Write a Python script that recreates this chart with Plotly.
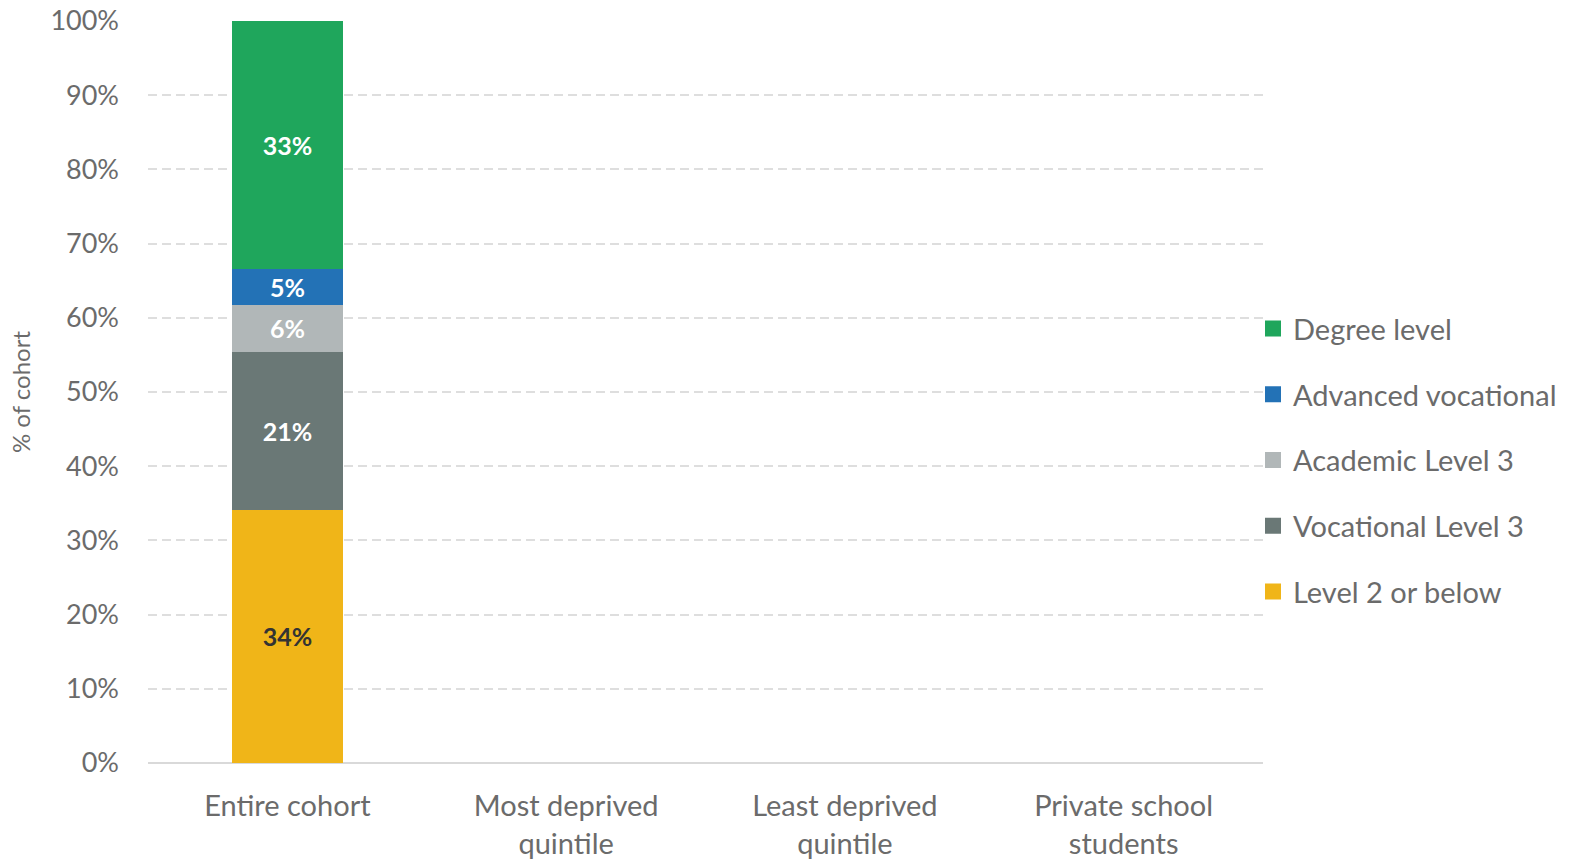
import plotly.graph_objects as go

# Categories along the x axis
categories = ["Entire cohort", "Most deprived<br>quintile", "Least deprived<br>quintile", "Private school<br>students"]

# Share of cohort (%) by highest qualification; only the entire cohort is populated
level2_below = [34.1, None, None, None]
vocational_l3 = [21.3, None, None, None]
academic_l3 = [6.3, None, None, None]
advanced_voc = [4.9, None, None, None]
degree = [33.4, None, None, None]

y_ticks = [0, 10, 20, 30, 40, 50, 60, 70, 80, 90, 100]
y_tick_text = [f"{t}%" for t in y_ticks]

series = [
    ("Level 2 or below", level2_below, "#F0B518", "#333333"),
    ("Vocational Level 3", vocational_l3, "#6A7876", "white"),
    ("Academic Level 3", academic_l3, "#B1B7B8", "white"),
    ("Advanced vocational", advanced_voc, "#2372B6", "white"),
    ("Degree level", degree, "#1FA65C", "white"),
]
legend_order = ["Degree level", "Advanced vocational", "Academic Level 3",
                "Vocational Level 3", "Level 2 or below"]

font_family = "Lato, 'Open Sans', sans-serif"
grey = "#6b6b6b"

fig = go.Figure()
for name, vals, color, txtcolor in series:
    fig.add_trace(go.Bar(
        x=categories,
        y=vals,
        name=name,
        showlegend=False,
        marker=dict(color=color, line=dict(width=0)),
        texttemplate="%{y:.0f}%",
        textposition="inside",
        insidetextanchor="middle",
        textangle=0,
        textfont=dict(family=font_family, size=28, color=txtcolor, weight="bold"),
        hovertemplate="%{x}: %{y:.1f}%<extra>" + name + "</extra>",
    ))

# Square swatches for the legend, listed top to bottom
colors = {name: color for name, _, color, _ in series}
for rank, name in enumerate(legend_order):
    fig.add_trace(go.Scatter(
        x=[None], y=[None],
        mode="markers",
        name=name,
        legendgroup=name,
        legendrank=rank + 1,
        marker=dict(symbol="square", size=17, color=colors[name]),
        hoverinfo="skip",
    ))

fig.update_layout(
    barmode="stack",
    bargap=0.6,
    width=1575,
    height=863,
    margin=dict(l=148, r=312, t=21, b=100, autoexpand=False),
    plot_bgcolor="white",
    paper_bgcolor="white",
    font=dict(family=font_family, color=grey),
    uniformtext=dict(mode="show", minsize=10),
    legend=dict(
        traceorder="grouped",
        tracegroupgap=25,
        x=1.0 - 10 / 1115,
        xanchor="left",
        y=0.408,
        yanchor="middle",
        font=dict(size=29, color=grey, family=font_family),
        itemwidth=30,
        bgcolor="rgba(0,0,0,0)",
    ),
    xaxis=dict(
        tickfont=dict(size=29, color=grey),
        showgrid=False,
        showline=False,
        ticks="",
        ticklabelstandoff=23,
        automargin=False,
    ),
    yaxis=dict(
        range=[0, 100],
        tickvals=y_ticks,
        ticktext=y_tick_text,
        tickfont=dict(size=27, color=grey),
        showgrid=True,
        gridcolor="#dedede",
        griddash="9px,5px",
        gridwidth=1.5,
        zeroline=True,
        zerolinecolor="#d9d9d9",
        zerolinewidth=2,
        showline=False,
        ticks="",
        ticklabelstandoff=28,
        automargin=False,
        title=dict(text="% of cohort", font=dict(size=24, color=grey), standoff=12),
    ),
)

fig.write_html("out.html")
